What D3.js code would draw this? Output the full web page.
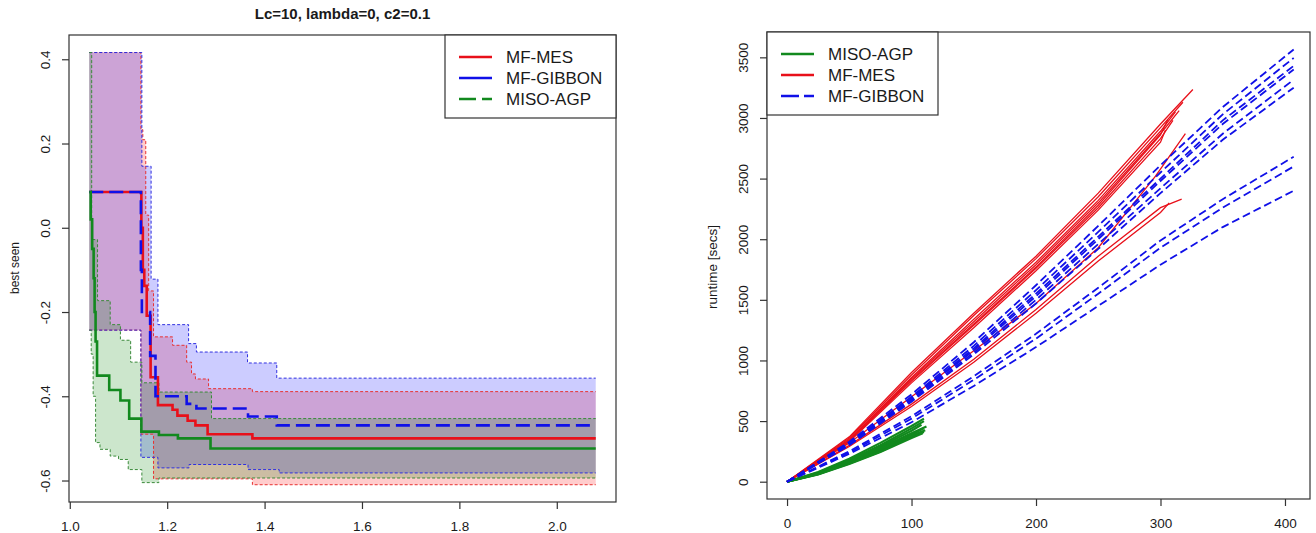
<!DOCTYPE html>
<html><head><meta charset="utf-8">
<script src="https://cdn.jsdelivr.net/npm/d3@7"></script>
<style>
body{margin:0;background:#fff}
svg{display:block}
text{font-family:"Liberation Sans",Arial,Helvetica,sans-serif;fill:#1a1a1a}
</style>
</head><body>
<svg id="chart" width="1316" height="533"></svg>
<script>
// ---------------- DATA ----------------
const leftTitle = "Lc=10, lambda=0, c2=0.1";
const leftYLabel = "best seen";
const rightYLabel = "runtime [secs]";
const leftXTicks = [1.0, 1.2, 1.4, 1.6, 1.8, 2.0];
const leftYTicks = [-0.6, -0.4, -0.2, 0.0, 0.2, 0.4];
const rightXTicks = [0, 100, 200, 300, 400];
const rightYTicks = [0, 500, 1000, 1500, 2000, 2500, 3000, 3500];
const leftLegend = ["MF-MES", "MF-GIBBON", "MISO-AGP"];
const rightLegend = ["MISO-AGP", "MF-MES", "MF-GIBBON"];

// left panel: medians (step functions) [x, best seen]
const mesMedian = [[1.04,0.085],[1.147,0.0],[1.150,-0.1],[1.153,-0.138],[1.158,-0.209],[1.166,-0.355],[1.181,-0.421],[1.211,-0.432],[1.221,-0.446],[1.242,-0.458],[1.258,-0.469],[1.283,-0.49],[1.375,-0.5],[2.08,-0.5]];
const gibbonMedian = [[1.04,0.085],[1.146,-0.10],[1.148,-0.2],[1.165,-0.304],[1.176,-0.4],[1.24,-0.418],[1.26,-0.429],[1.366,-0.448],[1.425,-0.469],[2.08,-0.469]];
const misoMedian = [[1.04,0.085],[1.043,0.02],[1.046,-0.05],[1.049,-0.12],[1.051,-0.2],[1.053,-0.27],[1.056,-0.351],[1.081,-0.385],[1.104,-0.41],[1.122,-0.453],[1.147,-0.484],[1.183,-0.492],[1.222,-0.5],[1.289,-0.524],[2.08,-0.524]];

// left panel: bands (upper / lower step functions)
const mesUpper = [[1.04,0.416],[1.146,0.233],[1.150,0.209],[1.156,0.03],[1.162,-0.15],[1.172,-0.259],[1.211,-0.279],[1.24,-0.319],[1.25,-0.347],[1.258,-0.359],[1.285,-0.382],[1.375,-0.389],[2.08,-0.389]];
const mesLower = [[1.04,-0.243],[1.146,-0.49],[1.172,-0.596],[1.375,-0.61],[2.08,-0.61]];
const gibbonUpper = [[1.04,0.416],[1.148,0.146],[1.167,-0.122],[1.181,-0.23],[1.244,-0.275],[1.26,-0.295],[1.365,-0.321],[1.425,-0.357],[2.08,-0.357]];
const gibbonLower = [[1.04,-0.243],[1.146,-0.545],[1.181,-0.57],[1.245,-0.562],[1.366,-0.574],[1.43,-0.582],[2.08,-0.582]];
const misoUpper = [[1.04,0.416],[1.045,-0.028],[1.057,-0.173],[1.083,-0.23],[1.104,-0.267],[1.125,-0.319],[1.148,-0.368],[1.183,-0.39],[1.291,-0.453],[2.08,-0.453]];
const misoLower = [[1.04,-0.243],[1.044,-0.30],[1.048,-0.40],[1.053,-0.51],[1.062,-0.526],[1.083,-0.542],[1.10,-0.55],[1.12,-0.574],[1.148,-0.605],[1.183,-0.594],[2.08,-0.594]];

// right panel: runtime runs [iteration, secs]
const misoRuns = [
  [[0,0],[25,80],[50,190],[75,320],[100,460],[110,520]],
  [[0,0],[25,75],[50,180],[75,300],[100,440],[110,500]],
  [[0,0],[25,72],[50,172],[75,290],[100,420],[108,470]],
  [[0,0],[25,70],[50,165],[75,280],[100,400],[112,455]],
  [[0,0],[25,66],[50,160],[75,270],[100,390],[110,440]],
  [[0,0],[25,64],[50,155],[75,260],[100,380],[111,425]],
  [[0,0],[25,62],[50,150],[75,250],[100,370],[110,410]],
  [[0,0],[25,60],[50,146],[75,245],[100,360],[109,400]]
];
const mesRuns = [
  [[0,0],[50,370],[100,900],[150,1390],[200,1860],[250,2380],[300,2950],[326,3235]],
  [[0,0],[50,360],[100,880],[150,1370],[200,1840],[250,2350],[300,2920],[318,3130]],
  [[0,0],[50,350],[100,860],[150,1340],[200,1810],[250,2320],[300,2890],[312,3050]],
  [[0,0],[50,345],[100,850],[150,1320],[200,1790],[250,2300],[300,2870],[315,3060]],
  [[0,0],[50,340],[100,840],[150,1300],[200,1770],[250,2280],[300,2860],[306,2990]],
  [[0,0],[50,335],[100,830],[150,1290],[200,1760],[250,2260],[300,2830],[310,2980]],
  [[0,0],[50,330],[100,815],[150,1270],[200,1740],[250,2240],[300,2800],[304,2900]],
  [[0,0],[50,320],[100,700],[150,1080],[200,1470],[250,1930],[296,2520],[320,2870]],
  [[0,0],[50,300],[100,640],[150,1010],[200,1420],[250,1860],[300,2260],[317,2330]],
  [[0,0],[50,290],[100,620],[150,985],[200,1390],[250,1820],[300,2220],[307,2300]]
];
const gibbonRuns = [
  [[0,0],[50,330],[100,720],[150,1150],[200,1620],[250,2110],[300,2610],[350,3090],[407,3565]],
  [[0,0],[50,320],[100,700],[150,1120],[200,1580],[250,2060],[300,2550],[350,3030],[407,3495]],
  [[0,0],[50,315],[100,690],[150,1100],[200,1550],[250,2020],[300,2500],[350,2980],[407,3430]],
  [[0,0],[50,310],[100,680],[150,1085],[200,1530],[250,2000],[300,2480],[350,2950],[407,3400]],
  [[0,0],[50,305],[100,670],[150,1065],[200,1500],[250,1960],[300,2420],[350,2870],[405,3300]],
  [[0,0],[50,300],[100,660],[150,1050],[200,1470],[250,1920],[300,2380],[350,2820],[407,3250]],
  [[0,0],[50,250],[100,540],[150,870],[200,1220],[250,1600],[300,1990],[350,2330],[407,2680]],
  [[0,0],[50,240],[100,520],[150,840],[200,1180],[250,1550],[300,1930],[350,2260],[407,2600]],
  [[0,0],[50,230],[100,490],[150,790],[200,1110],[250,1450],[300,1790],[350,2100],[407,2400]]
];

// ---------------- STYLE ----------------
const RED = "#e8101a", BLUE = "#1010e8", GREEN = "#12891e";
const BOX = "#333";

const svg = d3.select("#chart");

// ---------------- LEFT PANEL ----------------
const L = {x0:69, x1:616, y0:35, y1:502};
const xL = d3.scaleLinear().domain([0.9984, 2.1216]).range([L.x0, L.x1]);
const yL = d3.scaleLinear().domain([-0.651, 0.4576]).range([L.y1, L.y0]);

const gL = svg.append("g");
const stepLine = (xs, ys, curve) => d3.line().x(d=>xs(d[0])).y(d=>ys(d[1])).curve(curve);

function bandPath(up, lo) {
  const a = stepLine(xL, yL, d3.curveStepAfter)(up);
  const b = stepLine(xL, yL, d3.curveStepBefore)(lo.slice().reverse());
  return a + "L" + b.slice(1) + "Z";
}
const bands = [
  {up: mesUpper, lo: mesLower, fill: "rgba(255,0,0,0.2)", stroke: "#e83030"},
  {up: gibbonUpper, lo: gibbonLower, fill: "rgba(0,0,255,0.2)", stroke: "#3030e0"},
  {up: misoUpper, lo: misoLower, fill: "rgba(0,128,0,0.2)", stroke: "#3a8a3a"}
];
bands.forEach(b => {
  gL.append("path").attr("d", bandPath(b.up, b.lo)).attr("fill", b.fill).attr("stroke", "none");
});
bands.forEach(b => {
  [b.up, b.lo].forEach(s => {
    gL.append("path").attr("d", stepLine(xL, yL, d3.curveStepAfter)(s))
      .attr("fill", "none").attr("stroke", b.stroke).attr("stroke-width", 1)
      .attr("stroke-dasharray", "3,2");
  });
});
gL.append("path").attr("d", stepLine(xL, yL, d3.curveStepAfter)(mesMedian))
  .attr("fill","none").attr("stroke", RED).attr("stroke-width", 2.6);
gL.append("path").attr("d", stepLine(xL, yL, d3.curveStepAfter)(gibbonMedian))
  .attr("fill","none").attr("stroke", BLUE).attr("stroke-width", 2.6).attr("stroke-dasharray","14,6");
gL.append("path").attr("d", stepLine(xL, yL, d3.curveStepAfter)(misoMedian))
  .attr("fill","none").attr("stroke", GREEN).attr("stroke-width", 2.6);

// axes
function drawAxes(g, xs, ys, box, xt, yt, xfmt, yfmt, ylabX) {
  g.append("rect").attr("x", box.x0).attr("y", box.y0).attr("width", box.x1-box.x0).attr("height", box.y1-box.y0)
    .attr("fill","none").attr("stroke", BOX).attr("stroke-width", 1.2);
  const ax = g.append("g").attr("transform", `translate(0,${box.y1})`)
    .call(d3.axisBottom(xs).tickValues(xt).tickFormat(xfmt).tickSize(7).tickPadding(12).tickSizeOuter(0));
  ax.select(".domain").remove();
  ax.selectAll("line").attr("stroke", BOX).attr("stroke-width", 1.2);
  ax.selectAll("text").attr("font-size", 13.5).attr("fill", "#1a1a1a");
  const ay = g.append("g").attr("transform", `translate(${box.x0},0)`)
    .call(d3.axisLeft(ys).tickValues(yt).tickFormat("").tickSize(7).tickSizeOuter(0));
  ay.select(".domain").remove();
  ay.selectAll("line").attr("stroke", BOX).attr("stroke-width", 1.2);
  ay.selectAll(".tick").append("text")
    .attr("transform", `translate(${ylabX},0) rotate(-90)`)
    .attr("text-anchor", "middle").attr("font-size", 13.5).attr("fill","#1a1a1a")
    .text(d => yfmt(d));
}
drawAxes(gL, xL, yL, L, leftXTicks, leftYTicks, d=>d.toFixed(1), d=>d.toFixed(1), -19.5);

gL.append("text").attr("x", (L.x0+L.x1)/2).attr("y", 19).attr("text-anchor","middle")
  .attr("font-size", 15).attr("font-weight","bold").text(leftTitle);
gL.append("text").attr("transform", `translate(19,268) rotate(-90)`).attr("text-anchor","middle")
  .attr("font-size", 12).text(leftYLabel);

// legends
function legend(g, x0, x1, y0, y1, items, styles) {
  g.append("rect").attr("x", x0).attr("y", y0).attr("width", x1-x0).attr("height", y1-y0)
    .attr("fill","#fff").attr("stroke", BOX).attr("stroke-width", 1.2);
  items.forEach((t,i) => {
    const yy = y0 + 22 + i*21;
    g.append("line").attr("x1", x0+14).attr("x2", x0+47).attr("y1", yy).attr("y2", yy)
      .attr("stroke", styles[i].c).attr("stroke-width", 2.6).attr("stroke-dasharray", styles[i].d || null);
    g.append("text").attr("x", x0+61).attr("y", yy).attr("dy","0.36em").attr("font-size", 17).text(t);
  });
}
legend(gL, 445, 616, 35, 118, leftLegend, [{c:RED},{c:BLUE},{c:GREEN, d:"17,6"}]);

// ---------------- RIGHT PANEL ----------------
const R = {x0:767, x1:1310, y0:32, y1:499};
const xR = d3.scaleLinear().domain([-16.1, 420.1]).range([R.x0, R.x1]);
const yR = d3.scaleLinear().domain([-142.7, 3709]).range([R.y1, R.y0]);
const gR = svg.append("g");
const lineR = d3.line().x(d=>xR(d[0])).y(d=>yR(d[1]));

misoRuns.forEach(r => gR.append("path").attr("d", lineR(r)).attr("fill","none")
  .attr("stroke", GREEN).attr("stroke-width", 2.2));
mesRuns.forEach(r => gR.append("path").attr("d", lineR(r)).attr("fill","none")
  .attr("stroke", RED).attr("stroke-width", 1.3));
gibbonRuns.forEach(r => gR.append("path").attr("d", lineR(r)).attr("fill","none")
  .attr("stroke", BLUE).attr("stroke-width", 1.8).attr("stroke-dasharray","8,4"));

drawAxes(gR, xR, yR, R, rightXTicks, rightYTicks, d=>String(d), d=>String(d), -19);
gR.append("text").attr("transform", `translate(717,267) rotate(-90)`).attr("text-anchor","middle")
  .attr("font-size", 13.5).text(rightYLabel);

legend(gR, 767, 938, 32, 115, rightLegend, [{c:GREEN},{c:RED},{c:BLUE, d:"18,5"}]);
</script>
</body></html>
